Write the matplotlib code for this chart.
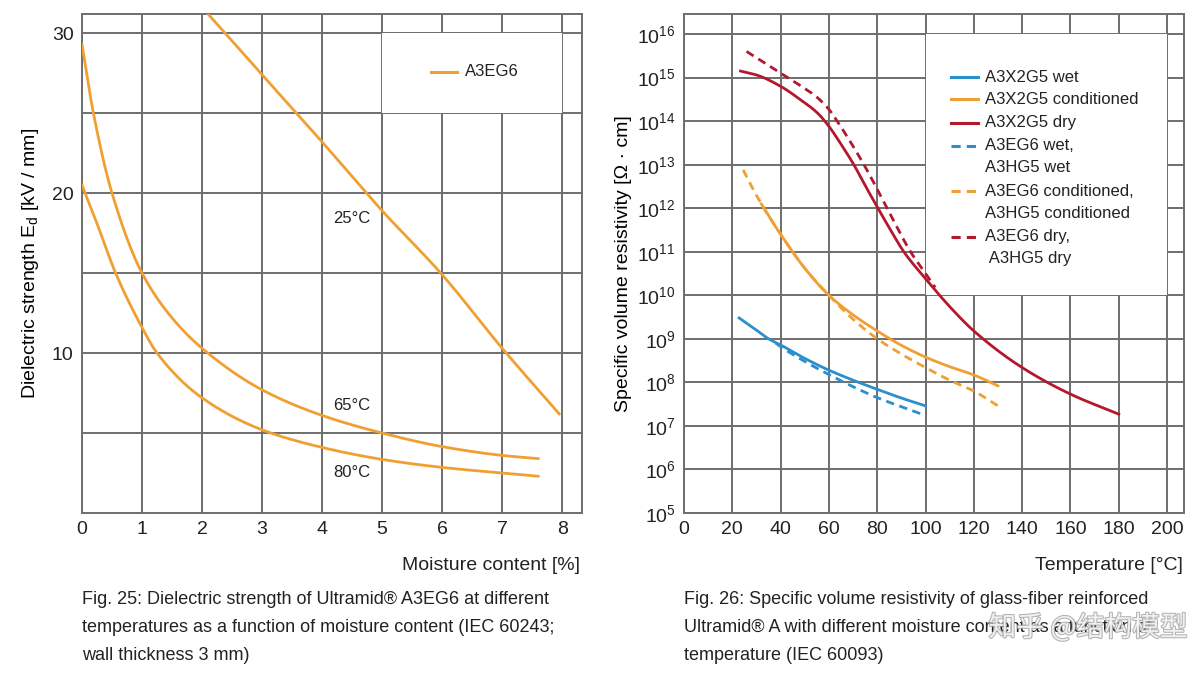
import matplotlib
matplotlib.use("Agg")
import matplotlib.pyplot as plt
import matplotlib.patheffects as pe
import numpy as np
from matplotlib.patches import Rectangle
from matplotlib.ticker import FixedLocator, NullFormatter

# Fig. 25: dielectric strength vs moisture content
x25 = [2.1, 3.0, 4.0, 5.0, 6.0, 7.0, 7.95]
y25 = [31.2, 27.4, 23.2, 18.9, 14.9, 10.3, 6.2]
x65 = [0.0, 0.19, 0.5, 1.0, 1.5, 2.0, 3.0, 4.0, 5.0, 6.0, 7.0, 7.6]
y65 = [29.3, 25.0, 20.0, 15.0, 12.2, 10.3, 7.7, 6.1, 5.0, 4.15, 3.6, 3.4]
x80 = [0.0, 0.25, 0.56, 1.0, 1.25, 2.0, 3.0, 4.0, 5.0, 6.0, 7.0, 7.6]
y80 = [20.5, 18.1, 15.0, 11.6, 10.0, 7.2, 5.2, 4.1, 3.35, 2.85, 2.5, 2.3]

# Fig. 26: log10 of specific volume resistivity vs temperature
t_wet = [22.8, 30, 35, 40, 50, 60, 70, 80, 90, 100]
r_wet = [9.48, 9.2, 9.0, 8.86, 8.55, 8.28, 8.05, 7.84, 7.64, 7.46]
t_wet_d = [38, 40, 50, 60, 70, 80, 90, 100]
r_wet_d = [8.9, 8.82, 8.48, 8.18, 7.9, 7.65, 7.44, 7.24]
t_cond = [32, 36, 40, 50, 60, 70, 80, 90, 100, 110, 120, 130]
r_cond = [12.1, 11.74, 11.4, 10.62, 10.0, 9.55, 9.18, 8.85, 8.58, 8.36, 8.17, 7.92]
t_cond_d = [24.5, 28, 32, 36, 40, 50, 60, 70, 80, 90, 100, 110, 120, 130]
r_cond_d = [12.88, 12.5, 12.1, 11.74, 11.4, 10.62, 10.0, 9.45, 9.0, 8.65, 8.34, 8.05, 7.8, 7.46]
t_dry = [23.4, 30, 40, 48, 55, 60, 65, 70.3, 75, 80.3, 85.5, 91, 100, 110, 120, 140, 160, 180]
r_dry = [15.15, 15.06, 14.8, 14.5, 14.2, 13.88, 13.47, 13.0, 12.52, 12.0, 11.5, 11.0, 10.38,
         9.74, 9.18, 8.34, 7.73, 7.27]
t_dry_d = [25.9, 40, 48.3, 55, 60, 63.4, 74.5, 84.1, 93.8, 100, 104]
r_dry_d = [15.6, 15.1, 14.81, 14.55, 14.27, 14.0, 13.0, 12.0, 11.0, 10.5, 10.18]

ORANGE = "#f0a032"
BLUE = "#2a8fcc"
RED = "#b3182d"
GRID = "#6e6e6e"
TEXT = "#222222"

plt.rcParams["font.family"] = ["Liberation Sans", "DejaVu Sans"]
plt.rcParams["mathtext.fontset"] = "custom"
plt.rcParams["mathtext.rm"] = "Liberation Sans"
plt.rcParams["mathtext.it"] = "Liberation Sans"

fig = plt.figure(figsize=(12.04, 6.74), dpi=100)
ax1 = fig.add_axes([82 / 1204, 1 - 513 / 674, 500 / 1204, 499 / 674])
ax2 = fig.add_axes([684 / 1204, 1 - 513 / 674, 500 / 1204, 499 / 674])


def smooth(xs, ys, n=200):
    # monotone cubic (PCHIP-like) interpolation so the curves come out smooth
    xs = np.asarray(xs, float)
    ys = np.asarray(ys, float)
    xx = np.linspace(xs[0], xs[-1], n)
    h = np.diff(xs)
    d = np.diff(ys) / h
    m = np.zeros_like(ys)
    m[0], m[-1] = d[0], d[-1]
    for i in range(1, len(xs) - 1):
        if d[i - 1] * d[i] > 0:
            w1 = 2 * h[i] + h[i - 1]
            w2 = h[i] + 2 * h[i - 1]
            m[i] = (w1 + w2) / (w1 / d[i - 1] + w2 / d[i])
    idx = np.clip(np.searchsorted(xs, xx) - 1, 0, len(xs) - 2)
    t = (xx - xs[idx]) / h[idx]
    h00 = 2 * t**3 - 3 * t**2 + 1
    h10 = t**3 - 2 * t**2 + t
    h01 = -2 * t**3 + 3 * t**2
    h11 = t**3 - t**2
    yy = h00 * ys[idx] + h10 * h[idx] * m[idx] + h01 * ys[idx + 1] + h11 * h[idx] * m[idx + 1]
    return xx, yy


for ax in (ax1, ax2):
    for s in ax.spines.values():
        s.set_color(GRID)
        s.set_linewidth(1.4)
    ax.tick_params(length=0, labelsize=14, colors=TEXT, pad=6)
    ax.grid(True, color=GRID, linewidth=1.4)
    ax.set_axisbelow(True)

# ---- left chart
ax1.set_xlim(0, 8.33)
ax1.set_ylim(0, 31.2)
ax1.set_xticks(range(0, 9))
ax1.yaxis.set_major_locator(FixedLocator([5, 10, 15, 20, 25, 30]))
ax1.set_yticklabels(["", "10", "", "20", "", "30"])
ax1.add_patch(Rectangle((5, 25), 3, 5, facecolor="white", edgecolor="none", zorder=1.5))
for xs, ys in ((x25, y25), (x65, y65), (x80, y80)):
    xx, yy = smooth(xs, ys)
    ax1.plot(xx, yy, color=ORANGE, lw=2, zorder=3)
ax1.plot([5.82, 6.25], [27.6, 27.6], color=ORANGE, lw=2.2, zorder=3)
ax1.text(6.38, 27.6, "A3EG6", fontsize=12, va="center", color=TEXT, zorder=3)
for lab, yv in (("25°C", 18.4), ("65°C", 6.75), ("80°C", 2.55)):
    ax1.text(4.5, yv, lab, fontsize=12, ha="center", va="center", color=TEXT, zorder=3)
ax1.set_ylabel("Dielectric strength E$_\\mathregular{d}$ [kV / mm]", fontsize=14, labelpad=8)
fig.text(580 / 1204, 1 - 565 / 674, "Moisture content [%]", fontsize=14, ha="right", va="center", color=TEXT)

# ---- right chart
ax2.set_yscale("log")
ax2.set_xlim(0, 207)
ax2.set_ylim(1e5, 10 ** 16.46)
ax2.set_xticks(range(0, 201, 20))
ax2.yaxis.set_major_locator(FixedLocator([10.0 ** k for k in range(5, 17)]))
ax2.yaxis.set_minor_formatter(NullFormatter())
ax2.tick_params(which="minor", length=0)
ax2.set_yticklabels(["$10^{%d}$" % k for k in range(5, 17)])
ax2.add_patch(Rectangle((100, 1e10), 100, 1e16 - 1e10, facecolor="white", edgecolor="none", zorder=1.5))

series = [
    (t_wet, r_wet, BLUE, "-", "A3X2G5 wet"),
    (t_cond, r_cond, ORANGE, "-", "A3X2G5 conditioned"),
    (t_dry, r_dry, RED, "-", "A3X2G5 dry"),
    (t_wet_d, r_wet_d, BLUE, "--", "A3EG6 wet,\nA3HG5 wet"),
    (t_cond_d, r_cond_d, ORANGE, "--", "A3EG6 conditioned,\nA3HG5 conditioned"),
    (t_dry_d, r_dry_d, RED, "--", "A3EG6 dry,\n A3HG5 dry"),
]
for ts, rs, c, ls, _ in series:
    xx, yy = smooth(ts, rs)
    line, = ax2.plot(xx, 10 ** yy, color=c, lw=2, zorder=3)
    if ls == "--":
        line.set_dashes((3, 2))

# legend drawn by hand, rows in pixel positions
rows = [77, 99, 123, 146, 168, 191, 214, 237, 259]
entry_rows = [0, 1, 2, 3, 5, 7]
for (ts, rs, c, ls, lab), r in zip(series, entry_rows):
    yfig = 1 - rows[r] / 674
    handle = plt.Line2D([951 / 1204, 978 / 1204], [yfig, yfig], transform=fig.transFigure,
                        color=c, lw=2.2, zorder=5)
    if ls == "--":
        handle.set_dashes((3, 2))
    fig.add_artist(handle)
    for j, part in enumerate(lab.split("\n")):
        fig.text(985 / 1204, 1 - rows[r + j] / 674, part, fontsize=12, va="center", color=TEXT)

ax2.set_ylabel("Specific volume resistivity [Ω · cm]", fontsize=14, labelpad=4)
fig.text(1183 / 1204, 1 - 565 / 674, "Temperature [°C]", fontsize=14, ha="right", va="center", color=TEXT)

# captions
cap1 = ["Fig. 25: Dielectric strength of Ultramid® A3EG6 at different",
        "temperatures as a function of moisture content (IEC 60243;",
        "wall thickness 3 mm)"]
cap2 = ["Fig. 26: Specific volume resistivity of glass-fiber reinforced",
        "Ultramid® A with different moisture content as a function of",
        "temperature (IEC 60093)"]
for i, (a, b) in enumerate(zip(cap1, cap2)):
    yv = 1 - (599 + 28 * i) / 674
    fig.text(82 / 1204, yv, a, fontsize=13, va="center", color=TEXT)
    fig.text(684 / 1204, yv, b, fontsize=13, va="center", color=TEXT)

# watermark
fig.text(1088 / 1204, 1 - 628 / 674, "知乎 @结构模型", fontsize=20, ha="center", va="center",
         color="white", alpha=0.8, family=["Noto Sans CJK SC", "DejaVu Sans"],
         path_effects=[pe.withStroke(linewidth=1.5, foreground="#a0a0a0")])

fig.savefig("out.png", dpi=100)
